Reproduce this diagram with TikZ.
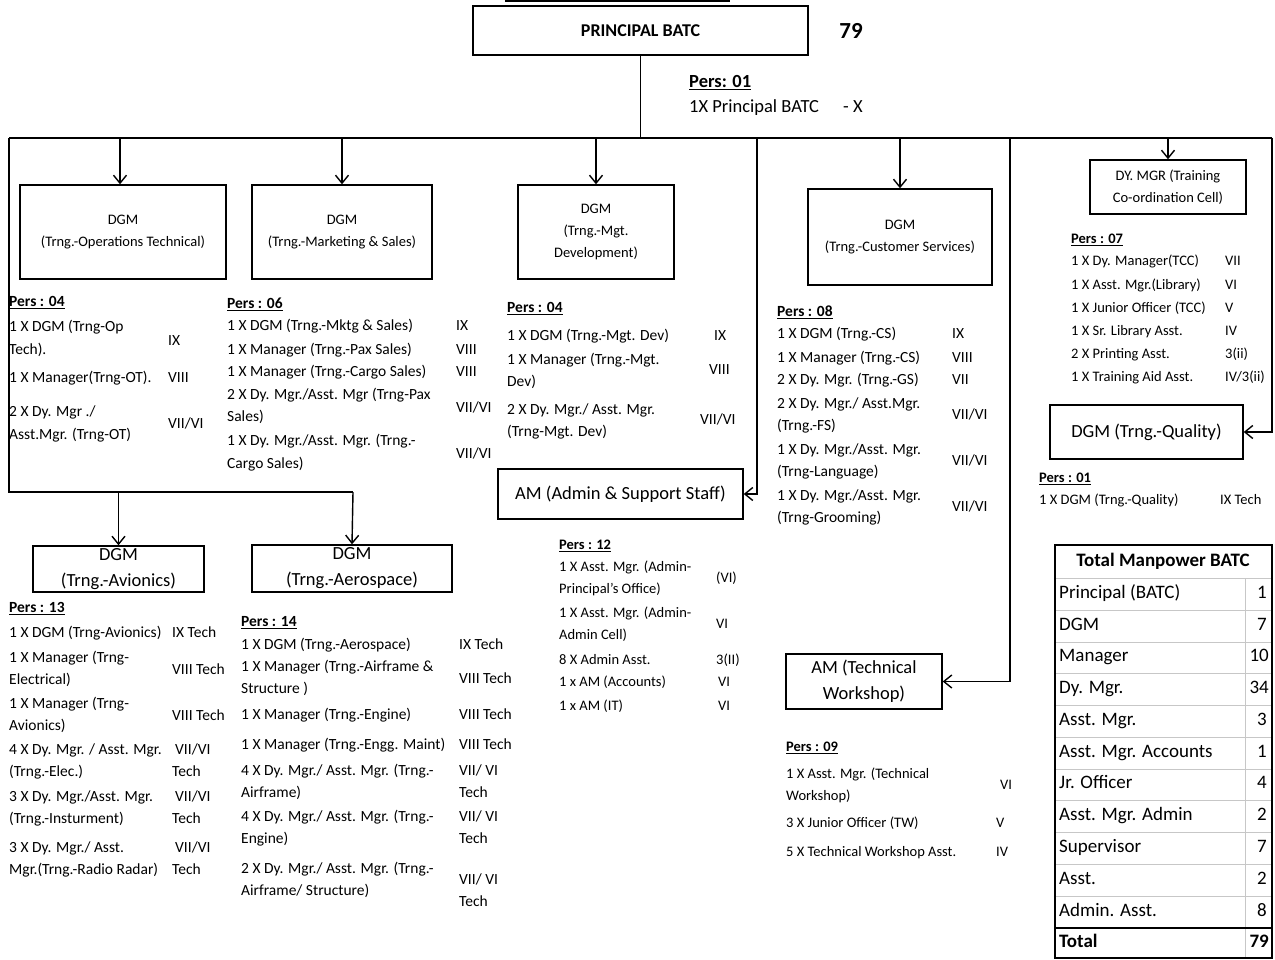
\documentclass[tikz,border=0pt]{standalone}
\usepackage{fontspec}
\setmainfont{Carlito}
\usetikzlibrary{arrows.meta}
\tikzset{
 bx/.style={draw, line width=1.4pt, inner sep=0pt, align=center},
 sbx/.style={bx, font=\fontsize{14.5}{22}\selectfont},
 bbx/.style={bx, font=\fontsize{18.5}{26}\selectfont},
 lst/.style={anchor=west, inner sep=0pt, font=\fontsize{15.5}{22}\selectfont, text height=11pt, text depth=3.5pt},
 sm/.style={lst, font=\fontsize{14.5}{21}\selectfont},
 big/.style={anchor=west, inner sep=0pt, font=\fontsize{18.5}{22}\selectfont, text height=13pt, text depth=4pt},
 tb/.style={anchor=west, inner sep=0pt, font=\fontsize{19}{23}\selectfont, text height=13pt, text depth=4pt},
 tbn/.style={tb, anchor=east},
 con/.style={line width=1.4pt},
 arr/.style={con, -{Straight Barb[length=8pt,width=13pt]}},
 grid/.style={draw=black!22, line width=0.9pt},
}
\newcommand\mytl[4]{\node[lst] (#1) at (#2,#3) {#4};}
\newcommand\mysm[4]{\node[sm] (#1) at (#2,#3) {#4};}
\newcommand\pers[1]{\underline{\textbf{Pers : #1}}}
\begin{document}
\begin{tikzpicture}[x=1pt,y=-1pt]
\useasboundingbox (0,0) rectangle (1275,960);
\fill[white] (0,0) rectangle (1275,960);

% top stub
\draw[con] (505,1) -- (730,1);

% ---------- boxes ----------
\node[bx, minimum width=335pt, minimum height=49pt, font=\fontsize{18}{22}\selectfont\bfseries] (princ) at (640.5,30.5) {PRINCIPAL BATC};
\node[inner sep=0pt, font=\fontsize{23}{26}\selectfont\bfseries] (tot) at (851,31) {79};
\node[big] (p0) at (689,83) {\underline{\textbf{Pers: 01}}};
\node[big] (p1) at (689,108) {1X Principal BATC};
\node[big] (p1g) at (843,108) {- X};

\node[sbx, minimum width=206pt, minimum height=94pt] (ops) at (123,232) {DGM\\(Trng.-Operations Technical)};
\node[sbx, minimum width=180pt, minimum height=94pt] (mkt) at (342,232) {DGM\\(Trng.-Marketing \& Sales)};
\node[sbx, minimum width=156pt, minimum height=94pt] (mgt) at (596,232) {DGM\\(Trng.-Mgt.\\Development)};
\node[sbx, minimum width=184pt, minimum height=96pt] (cs) at (900,237) {DGM\\(Trng.-Customer Services)};
\node[sbx, minimum width=156pt, minimum height=54pt] (tcc) at (1168,187) {DY. MGR (Training\\Co-ordination Cell)};
\node[bbx, minimum width=193pt, minimum height=54pt] (qual) at (1146.5,432) {DGM (Trng.-Quality)};
\node[bbx, minimum width=245pt, minimum height=50pt] (adm) at (620.5,494) {AM (Admin \& Support Staff)};
\node[bbx, minimum width=156pt, minimum height=55pt] (tw) at (864,681.5) {AM (Technical\\Workshop)};
\node[bbx, minimum width=171pt, minimum height=46pt] (avi) at (118.5,569) {DGM\\(Trng.-Avionics)};
\node[bbx, minimum width=200pt, minimum height=47pt] (aero) at (352,568.5) {DGM\\(Trng.-Aerospace)};

% ---------- connectors ----------
\coordinate (bl) at (9,138);
\coordinate (br) at (1272,138);
\coordinate (b120) at (120,138);
\coordinate (b757) at (757,138);
\coordinate (b1010) at (1010,138);
\coordinate (ll) at (9,492);
\coordinate (lr) at (353,492);
\draw[con] (princ.south) -- (princ.south |- bl);
\draw[con] (bl) -- (br);
\draw[arr] (b120) -- (b120 |- ops.north);
\draw[arr] (mkt.north |- bl) -- (mkt.north);
\draw[arr] (mgt.north |- bl) -- (mgt.north);
\draw[arr] (cs.north |- bl) -- (cs.north);
\draw[arr] (tcc.north |- bl) -- (tcc.north);
\draw[arr] (br) |- (qual.east);
\draw[arr] (b757) |- (adm.east);
\draw[arr] (b1010) |- (tw.east);
\draw[con] (bl) -- (ll) -- (lr);
\draw[arr] (avi.north |- ll) -- (avi.north);
\draw[arr] (lr) -- (aero.north);

% ---------- block A ----------
\mytl{a0}{9}{303}{\pers{04}}
\mytl{a1}{9}{328}{1 X DGM (Trng-Op}
\mytl{a1b}{9}{351}{Tech).}
\mytl{a1g}{168}{342}{IX}
\mytl{a2}{9}{379}{1 X Manager(Trng-OT).}
\mytl{a2g}{168}{379}{VIII}
\mytl{a3}{9}{413}{2 X Dy. Mgr ./}
\mytl{a3b}{9}{436}{Asst.Mgr. (Trng-OT)}
\mytl{a3g}{168}{425}{VII/VI}

% ---------- block B ----------
\mytl{b0}{227}{305}{\pers{06}}
\mytl{b1}{227}{327}{1 X DGM (Trng.-Mktg \& Sales)}
\mytl{b1g}{456}{327}{IX}
\mytl{b2}{227}{351}{1 X Manager (Trng.-Pax Sales)}
\mytl{b2g}{456}{351}{VIII}
\mytl{b3}{227}{373}{1 X Manager (Trng.-Cargo Sales)}
\mytl{b3g}{456}{373}{VIII}
\mytl{b4}{227}{396}{2 X Dy. Mgr./Asst. Mgr (Trng-Pax}
\mytl{b4b}{227}{418}{Sales)}
\mytl{b4g}{456}{409}{VII/VI}
\mytl{b5}{227}{442}{1 X Dy. Mgr./Asst. Mgr. (Trng.-}
\mytl{b5b}{227}{465}{Cargo Sales)}
\mytl{b5g}{456}{455}{VII/VI}

% ---------- block C ----------
\mytl{c0}{507}{309}{\pers{04}}
\mytl{c1}{507}{337}{1 X DGM (Trng.-Mgt. Dev)}
\mytl{c1g}{714}{337}{IX}
\mytl{c2}{507}{361}{1 X Manager (Trng.-Mgt.}
\mytl{c2b}{507}{383}{Dev)}
\mytl{c2g}{709}{371}{VIII}
\mytl{c3}{507}{411}{2 X Dy. Mgr./ Asst. Mgr.}
\mytl{c3b}{507}{433}{(Trng-Mgt. Dev)}
\mytl{c3g}{700}{421}{VII/VI}

% ---------- block D ----------
\mytl{d0}{777}{313}{\pers{08}}
\mytl{d1}{777}{335}{1 X DGM (Trng.-CS)}
\mytl{d1g}{952}{335}{IX}
\mytl{d2}{777}{359}{1 X Manager (Trng.-CS)}
\mytl{d2g}{952}{359}{VIII}
\mytl{d3}{777}{381}{2 X Dy. Mgr. (Trng.-GS)}
\mytl{d3g}{952}{381}{VII}
\mytl{d4}{777}{405}{2 X Dy. Mgr./ Asst.Mgr.}
\mytl{d4b}{777}{427}{(Trng.-FS)}
\mytl{d4g}{952}{416}{VII/VI}
\mytl{d5}{777}{451}{1 X Dy. Mgr./Asst. Mgr.}
\mytl{d5b}{777}{473}{(Trng-Language)}
\mytl{d5g}{952}{462}{VII/VI}
\mytl{d6}{777}{497}{1 X Dy. Mgr./Asst. Mgr.}
\mytl{d6b}{777}{519}{(Trng-Grooming)}
\mytl{d6g}{952}{508}{VII/VI}

% ---------- block E ----------
\mysm{e0}{1071}{240}{\pers{07}}
\mysm{e1}{1071}{262}{1 X Dy. Manager(TCC)}
\mysm{e1g}{1225}{262}{VII}
\mysm{e2}{1071}{286}{1 X Asst. Mgr.(Library)}
\mysm{e2g}{1225}{286}{VI}
\mysm{e3}{1071}{309}{1 X Junior Officer (TCC)}
\mysm{e3g}{1225}{309}{V}
\mysm{e4}{1071}{332}{1 X Sr. Library Asst.}
\mysm{e4g}{1225}{332}{IV}
\mysm{e5}{1071}{355}{2 X Printing Asst.}
\mysm{e5g}{1225}{355}{3(ii)}
\mysm{e6}{1071}{378}{1 X Training Aid Asst.}
\mysm{e6g}{1225}{378}{IV/3(ii)}

% ---------- block F ----------
\mysm{f0}{1039}{479}{\pers{01}}
\mysm{f1}{1039}{501}{1 X DGM (Trng.-Quality)}
\mysm{f1g}{1220}{501}{IX Tech}

% ---------- block G ----------
\mysm{g0}{559}{546}{\pers{12}}
\mysm{g1}{559}{568}{1 X Asst. Mgr. (Admin-}
\mysm{g1b}{559}{590}{Principal's Office)}
\mysm{g1g}{716}{579}{(VI)}
\mysm{g2}{559}{614}{1 X Asst. Mgr. (Admin-}
\mysm{g2b}{559}{636}{Admin Cell)}
\mysm{g2g}{716}{625}{VI}
\mysm{g3}{559}{661}{8 X Admin Asst.}
\mysm{g3g}{716}{661}{3(II)}
\mysm{g4}{559}{683}{1 x AM (Accounts)}
\mysm{g4g}{718}{683}{VI}
\mysm{g5}{559}{707}{1 x AM (IT)}
\mysm{g5g}{718}{707}{VI}

% ---------- block H ----------
\mysm{h0}{786}{748}{\pers{09}}
\mysm{h1}{786}{775}{1 X Asst. Mgr. (Technical}
\mysm{h1b}{786}{797}{Workshop)}
\mysm{h1g}{1000}{786}{VI}
\mysm{h2}{786}{824}{3 X Junior Officer (TW)}
\mysm{h2g}{996}{824}{V}
\mysm{h3}{786}{853}{5 X Technical Workshop Asst.}
\mysm{h3g}{996}{853}{IV}

% ---------- block I ----------
\mytl{i0}{9}{609}{\pers{13}}
\mytl{i1}{9}{634}{1 X DGM (Trng-Avionics)}
\mytl{i1g}{172}{634}{IX Tech}
\mytl{i2}{9}{659}{1 X Manager (Trng-}
\mytl{i2b}{9}{681}{Electrical)}
\mytl{i2g}{172}{671}{VIII Tech}
\mytl{i3}{9}{705}{1 X Manager (Trng-}
\mytl{i3b}{9}{727}{Avionics)}
\mytl{i3g}{172}{717}{VIII Tech}
\mytl{i4}{9}{751}{4 X Dy. Mgr. / Asst. Mgr.}
\mytl{i4b}{9}{773}{(Trng.-Elec.)}
\mytl{i4g}{175}{751}{VII/VI}
\mytl{i4h}{172}{773}{Tech}
\mytl{i5}{9}{798}{3 X Dy. Mgr./Asst. Mgr.}
\mytl{i5b}{9}{820}{(Trng.-Insturment)}
\mytl{i5g}{175}{798}{VII/VI}
\mytl{i5h}{172}{820}{Tech}
\mytl{i6}{9}{849}{3 X Dy. Mgr./ Asst.}
\mytl{i6b}{9}{871}{Mgr.(Trng.-Radio Radar)}
\mytl{i6g}{175}{849}{VII/VI}
\mytl{i6h}{172}{871}{Tech}

% ---------- block J ----------
\mytl{j0}{241}{623}{\pers{14}}
\mytl{j1}{241}{646}{1 X DGM (Trng.-Aerospace)}
\mytl{j1g}{459}{646}{IX Tech}
\mytl{j2}{241}{668}{1 X Manager (Trng.-Airframe \&}
\mytl{j2b}{241}{690}{Structure )}
\mytl{j2g}{459}{680}{VIII Tech}
\mytl{j3}{241}{716}{1 X Manager (Trng.-Engine)}
\mytl{j3g}{459}{716}{VIII Tech}
\mytl{j4}{241}{746}{1 X Manager (Trng.-Engg. Maint)}
\mytl{j4g}{459}{746}{VIII Tech}
\mytl{j5}{241}{772}{4 X Dy. Mgr./ Asst. Mgr. (Trng.-}
\mytl{j5b}{241}{794}{Airframe)}
\mytl{j5g}{459}{772}{VII/ VI}
\mytl{j5h}{459}{794}{Tech}
\mytl{j6}{241}{818}{4 X Dy. Mgr./ Asst. Mgr. (Trng.-}
\mytl{j6b}{241}{840}{Engine)}
\mytl{j6g}{459}{818}{VII/ VI}
\mytl{j6h}{459}{840}{Tech}
\mytl{j7}{241}{870}{2 X Dy. Mgr./ Asst. Mgr. (Trng.-}
\mytl{j7b}{241}{892}{Airframe/ Structure)}
\mytl{j7g}{459}{881}{VII/ VI}
\mytl{j7h}{459}{903}{Tech}

% ---------- table ----------
\foreach \yy in {578,610,642,673,705,737,769,800,832,864,896} {\draw[grid] (1056,\yy) -- (1271,\yy);}
\draw[grid] (1245,578) -- (1245,958);
\draw[line width=1.4pt] (1055,928) -- (1272,928);
\draw[line width=1.4pt] (1055,545) rectangle (1272,958);
\node[tb, anchor=center] (th) at (1163,562) {\textbf{Total Manpower BATC}};
\node[tb] (r1) at (1059,594) {Principal (BATC)};   \node[tbn] (n1) at (1267,594) {1};
\node[tb] (r2) at (1059,626) {DGM};                \node[tbn] (n2) at (1267,626) {7};
\node[tb] (r3) at (1059,657) {Manager};            \node[tbn] (n3) at (1269,657) {10};
\node[tb] (r4) at (1059,689) {Dy. Mgr.};           \node[tbn] (n4) at (1269,689) {34};
\node[tb] (r5) at (1059,721) {Asst. Mgr.};         \node[tbn] (n5) at (1267,721) {3};
\node[tb] (r6) at (1059,753) {Asst. Mgr. Accounts};\node[tbn] (n6) at (1267,753) {1};
\node[tb] (r7) at (1059,784) {Jr. Officer};        \node[tbn] (n7) at (1267,784) {4};
\node[tb] (r8) at (1059,816) {Asst. Mgr. Admin};   \node[tbn] (n8) at (1267,816) {2};
\node[tb] (r9) at (1059,848) {Supervisor};         \node[tbn] (n9) at (1267,848) {7};
\node[tb] (r10) at (1059,880) {Asst.};             \node[tbn] (n10) at (1267,880) {2};
\node[tb] (r11) at (1059,912) {Admin. Asst.};      \node[tbn] (n11) at (1267,912) {8};
\node[tb] (r12) at (1059,943) {\textbf{Total}};    \node[tbn] (n12) at (1269,943) {\textbf{79}};
\end{tikzpicture}
\end{document}
